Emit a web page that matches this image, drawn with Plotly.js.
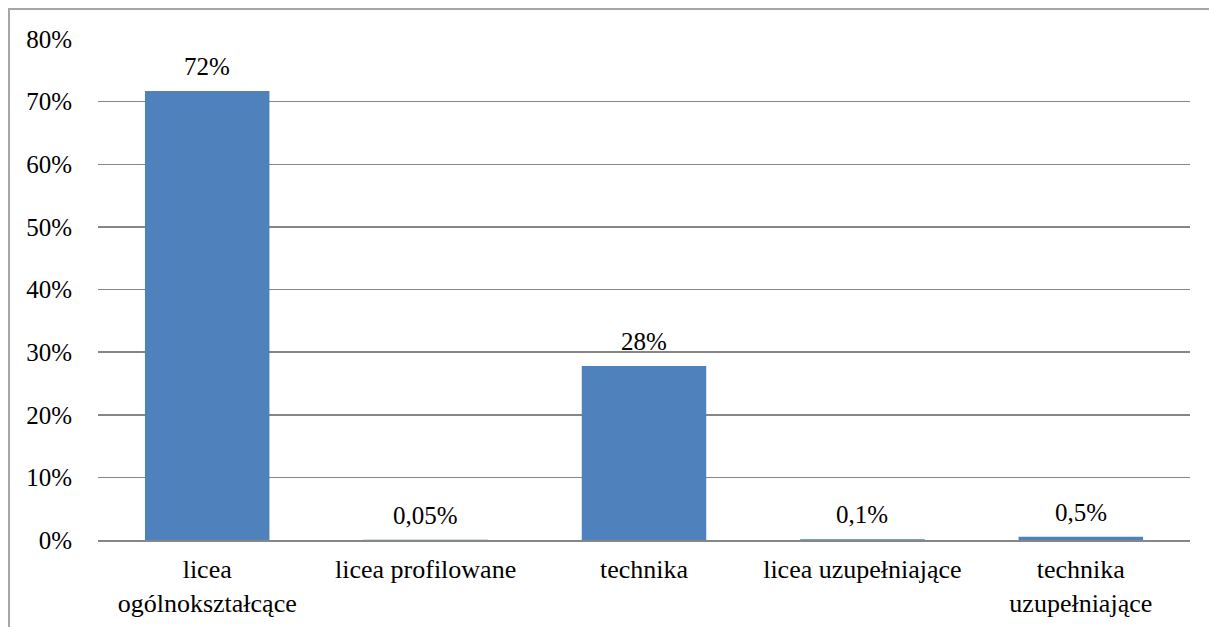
<!DOCTYPE html>
<html>
<head>
<meta charset="utf-8">
<script src="https://cdn.plot.ly/plotly-3.0.1.min.js"></script>
<style>
  html, body { margin: 0; padding: 0; background: #fff; }
  #wrap { position: relative; width: 1209px; height: 627px; overflow: hidden; }
  #chart { width: 1209px; height: 627px; }
  #frame { position: absolute; left: 8px; top: 8px; width: 1240px; height: 700px;
           border: 2px solid #a6a6a6; pointer-events: none; box-sizing: border-box; }
</style>
</head>
<body>
<div id="wrap">
  <div id="chart"></div>
  <div id="frame"></div>
</div>
<script>
const categories = ["licea<br>ogólnokształcące", "licea profilowane", "technika", "licea uzupełniające", "technika<br>uzupełniające"];
const values = [0.717, 0.0005, 0.278, 0.001, 0.005];
const labels = ["72%", "0,05%", "28%", "0,1%", "0,5%"];
const yTicks = [0, 0.1, 0.2, 0.3, 0.4, 0.5, 0.6, 0.7, 0.8];
const yTickLabels = ["0%", "10%", "20%", "30%", "40%", "50%", "60%", "70%", "80%"];

const trace = {
  type: "bar",
  x: categories,
  y: values,
  marker: { color: "#4F81BD" },
  hoverinfo: "none"
};

const annotations = categories.map((c, i) => ({
  x: c, y: values[i], xref: "x", yref: "y",
  text: labels[i], showarrow: false, yanchor: "bottom", yshift: 9,
  font: { family: "Liberation Serif", size: 25, color: "#000000" }
}));

const layout = {
  width: 1209, height: 627,
  margin: { l: 98, r: 19, t: 39, b: 87 },
  paper_bgcolor: "#ffffff", plot_bgcolor: "#ffffff",
  bargap: 0.43,
  showlegend: false,
  xaxis: {
    type: "category",
    showgrid: false,
    showline: true, linecolor: "#868686", linewidth: 2,
    ticks: "",
    ticklabelstandoff: 5,
    tickfont: { family: "Liberation Serif", size: 26, color: "#000000" },
    fixedrange: true
  },
  yaxis: {
    range: [0, 0.8],
    tickvals: yTicks, ticktext: yTickLabels,
    showgrid: true, gridcolor: "#868686", gridwidth: 1.5,
    zeroline: false, showline: false, ticks: "",
    ticklabelstandoff: 25,
    tickfont: { family: "Liberation Serif", size: 25, color: "#000000" },
    fixedrange: true
  },
  annotations: annotations
};

Plotly.newPlot("chart", [trace], layout, { displayModeBar: false, staticPlot: true });
</script>
</body>
</html>
